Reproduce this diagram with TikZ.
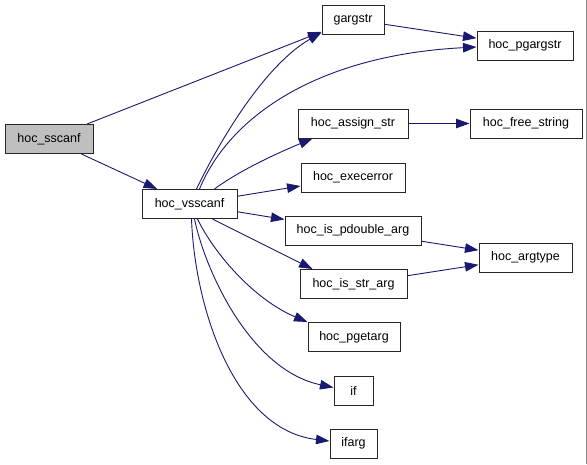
\documentclass[tikz,border=0pt]{standalone}
\usepackage{fontspec}
\setmainfont{Liberation Sans}
\usetikzlibrary{arrows.meta,calc}
\definecolor{edgec}{HTML}{191970}
\definecolor{rootfill}{HTML}{BFBFBF}
\begin{document}
\begin{tikzpicture}[x=1pt,y=-1pt,
  fn/.style={draw=black!85, line width=1pt, fill=white, minimum height=29pt, inner sep=0pt,
    font=\fontsize{12.5}{14}\selectfont, text=black},
  call/.style={draw=edgec, line width=0.9pt, -{Triangle[length=13.5pt,width=9.5pt,fill=edgec]}}]
\useasboundingbox (0,0) rectangle (587,464);
\fill[white] (0,0) rectangle (587,464);
\draw[black!45, line width=1pt] (586,0) -- (586,464);

\node[fn, minimum width=88pt, fill=rootfill] (ss) at (49,139) {hoc\_sscanf};
\node[fn, minimum width=95pt] (vs) at (189.5,204) {hoc\_vsscanf};
\node[fn, minimum width=62pt] (gs) at (353,19.5) {gargstr};
\node[fn, minimum width=96pt] (pg) at (525,45.5) {hoc\_pgargstr};
\node[fn, minimum width=110pt] (as) at (353,123.5) {hoc\_assign\_str};
\node[fn, minimum width=112pt] (fs) at (526,123.5) {hoc\_free\_string};
\node[fn, minimum width=104pt] (ee) at (353,177.5) {hoc\_execerror};
\node[fn, minimum width=136pt] (pd) at (353,230.5) {hoc\_is\_pdouble\_arg};
\node[fn, minimum width=107pt] (sa) at (353.5,284) {hoc\_is\_str\_arg};
\node[fn, minimum width=92pt] (pga) at (354,337) {hoc\_pgetarg};
\node[fn, minimum width=39pt] (if) at (353.5,390.5) {if};
\node[fn, minimum width=47pt] (ia) at (353.5,443.5) {ifarg};
\node[fn, minimum width=93pt] (at) at (525.5,257.5) {hoc\_argtype};

% straight calls
\draw[call] (ss) -- (gs);
\draw[call] (ss) -- (vs);
\draw[call] (vs) -- (ee);
\draw[call] (vs) -- (pd);
\draw[call] (gs) -- (pg);
\draw[call] (as) -- (fs);
\draw[call] (pd) -- (at);
\draw[call] (sa) -- (at);
\draw[call] ($(vs.south west)+(71,0)$) -- ($(sa.north west)+(13,0)$);

% curved calls
\draw[call] ($(vs.north west)+(55,0)$) .. controls (220,140) and (265,65) .. ($(gs.south west)+(0,-2)$);
\draw[call] ($(vs.north west)+(58,0)$) .. controls (230,115) and (320,55) .. ($(pg.west)+(0,1.5)$);
\draw[call] ($(vs.north west)+(73,0)$) .. controls (240,170) and (280,152) .. ($(as.south west)+(15,0)$);
\draw[call] ($(vs.south west)+(56,0)$) .. controls (215,255) and (255,300) .. ($(pga.west)+(0,-15)$);
\draw[call] ($(vs.south west)+(53,0)$) .. controls (205,270) and (250,370) .. ($(if.west)+(0,-3)$);
\draw[call] ($(vs.south west)+(50,0)$) .. controls (195,310) and (235,430) .. ($(ia.west)+(0,-2.5)$);
\end{tikzpicture}
\end{document}
